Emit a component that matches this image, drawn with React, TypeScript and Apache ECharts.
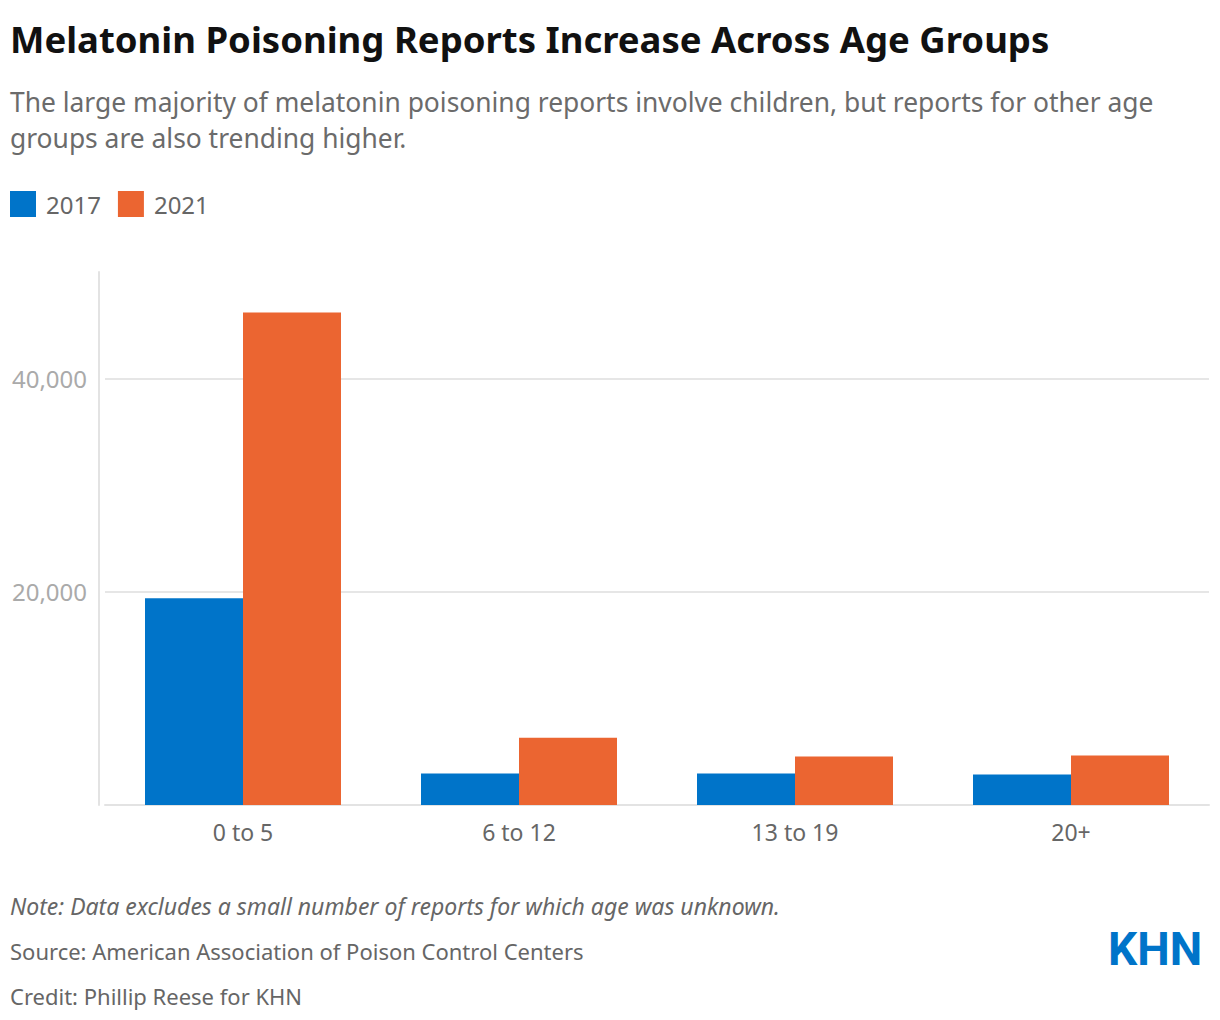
import React, { useEffect, useRef } from "react";
import * as echarts from "echarts";

const categories = ["0 to 5", "6 to 12", "13 to 19", "20+"];
const seriesNames = ["2017", "2021"];
const values2017 = [19400, 2950, 2950, 2850];
const values2021 = [46200, 6300, 4550, 4650];
const yMin = 0;
const yMax = 50000;
const yInterval = 20000;

const titleText = "Melatonin Poisoning Reports Increase Across Age Groups";
const subtitleLines = [
  "The large majority of melatonin poisoning reports involve children, but reports for other age",
  "groups are also trending higher.",
];
const noteText = "Note: Data excludes a small number of reports for which age was unknown.";
const sourceText = "Source: American Association of Poison Control Centers";
const creditText = "Credit: Phillip Reese for KHN";

const BLUE = "#0074c9";
const ORANGE = "#eb6531";
const FONT = "'Noto Sans', Lato, sans-serif";

export default function App() {
  const ref = useRef<HTMLDivElement>(null);
  useEffect(() => {
    if (!ref.current) return;
    const chart = echarts.init(ref.current, null, { renderer: "svg" });
    const txt = (text: string, x: number, y: number, font: string, fill: string, extra: any = {}) => ({
      type: "text",
      x,
      y,
      ...extra,
      style: { text, font, fill, textAlign: "left", textVerticalAlign: "middle", verticalAlign: "middle" },
    });
    chart.setOption({
      animation: false,
      backgroundColor: "#ffffff",
      textStyle: { fontFamily: FONT },
      legend: {
        data: seriesNames,
        left: 10,
        top: 191,
        padding: 0,
        icon: "rect",
        itemWidth: 26,
        itemHeight: 26,
        itemGap: 17,
        textStyle: { fontSize: 24, color: "#666666", fontFamily: FONT, padding: [0, 0, 0, 5] },
      },
      grid: { left: 105, right: 11, top: 272, bottom: 215, containLabel: false },
      xAxis: {
        type: "category",
        data: categories,
        axisLine: { show: true, lineStyle: { color: "#e3e3e3", width: 2 } },
        axisTick: { show: false },
        axisLabel: { color: "#666666", fontSize: 23, fontFamily: FONT, margin: 15 },
      },
      yAxis: {
        type: "value",
        min: yMin,
        max: yMax,
        interval: yInterval,
        offset: 6,
        axisLine: { show: true, lineStyle: { color: "#e3e3e3", width: 2 } },
        axisTick: { show: false },
        axisLabel: {
          color: "#aaaaaa",
          fontSize: 24,
          fontFamily: FONT,
          margin: 12,
          showMinLabel: false,
          showMaxLabel: false,
        },
        splitLine: { show: true, showMinLine: false, showMaxLine: false, lineStyle: { color: "#e6e6e6", width: 2 } },
      },
      series: [
        { name: seriesNames[0], type: "bar", data: values2017, barWidth: 98, barGap: "0%", itemStyle: { color: BLUE } },
        { name: seriesNames[1], type: "bar", data: values2021, barWidth: 98, barGap: "0%", itemStyle: { color: ORANGE } },
      ],
      graphic: [
        txt(titleText, 10, 39, `bold 36.5px ${FONT}`, "#111111"),
        txt(subtitleLines[0], 10, 102, `26.4px ${FONT}`, "#6b6b6b"),
        txt(subtitleLines[1], 10, 138, `26.4px ${FONT}`, "#6b6b6b"),
        txt(noteText, 10, 906, `italic 23px ${FONT}`, "#666666"),
        txt(sourceText, 10, 951, `22px ${FONT}`, "#666666"),
        txt(creditText, 10, 996, `22px ${FONT}`, "#666666"),
        txt("KHN", 1108, 949, `bold 46px Roboto, sans-serif`, BLUE),
      ],
    });
    return () => chart.dispose();
  }, []);
  return (
    <div
      ref={ref}
      style={{ position: "fixed", left: 0, top: 0, width: 1220, height: 1020 }}
    />
  );
}
